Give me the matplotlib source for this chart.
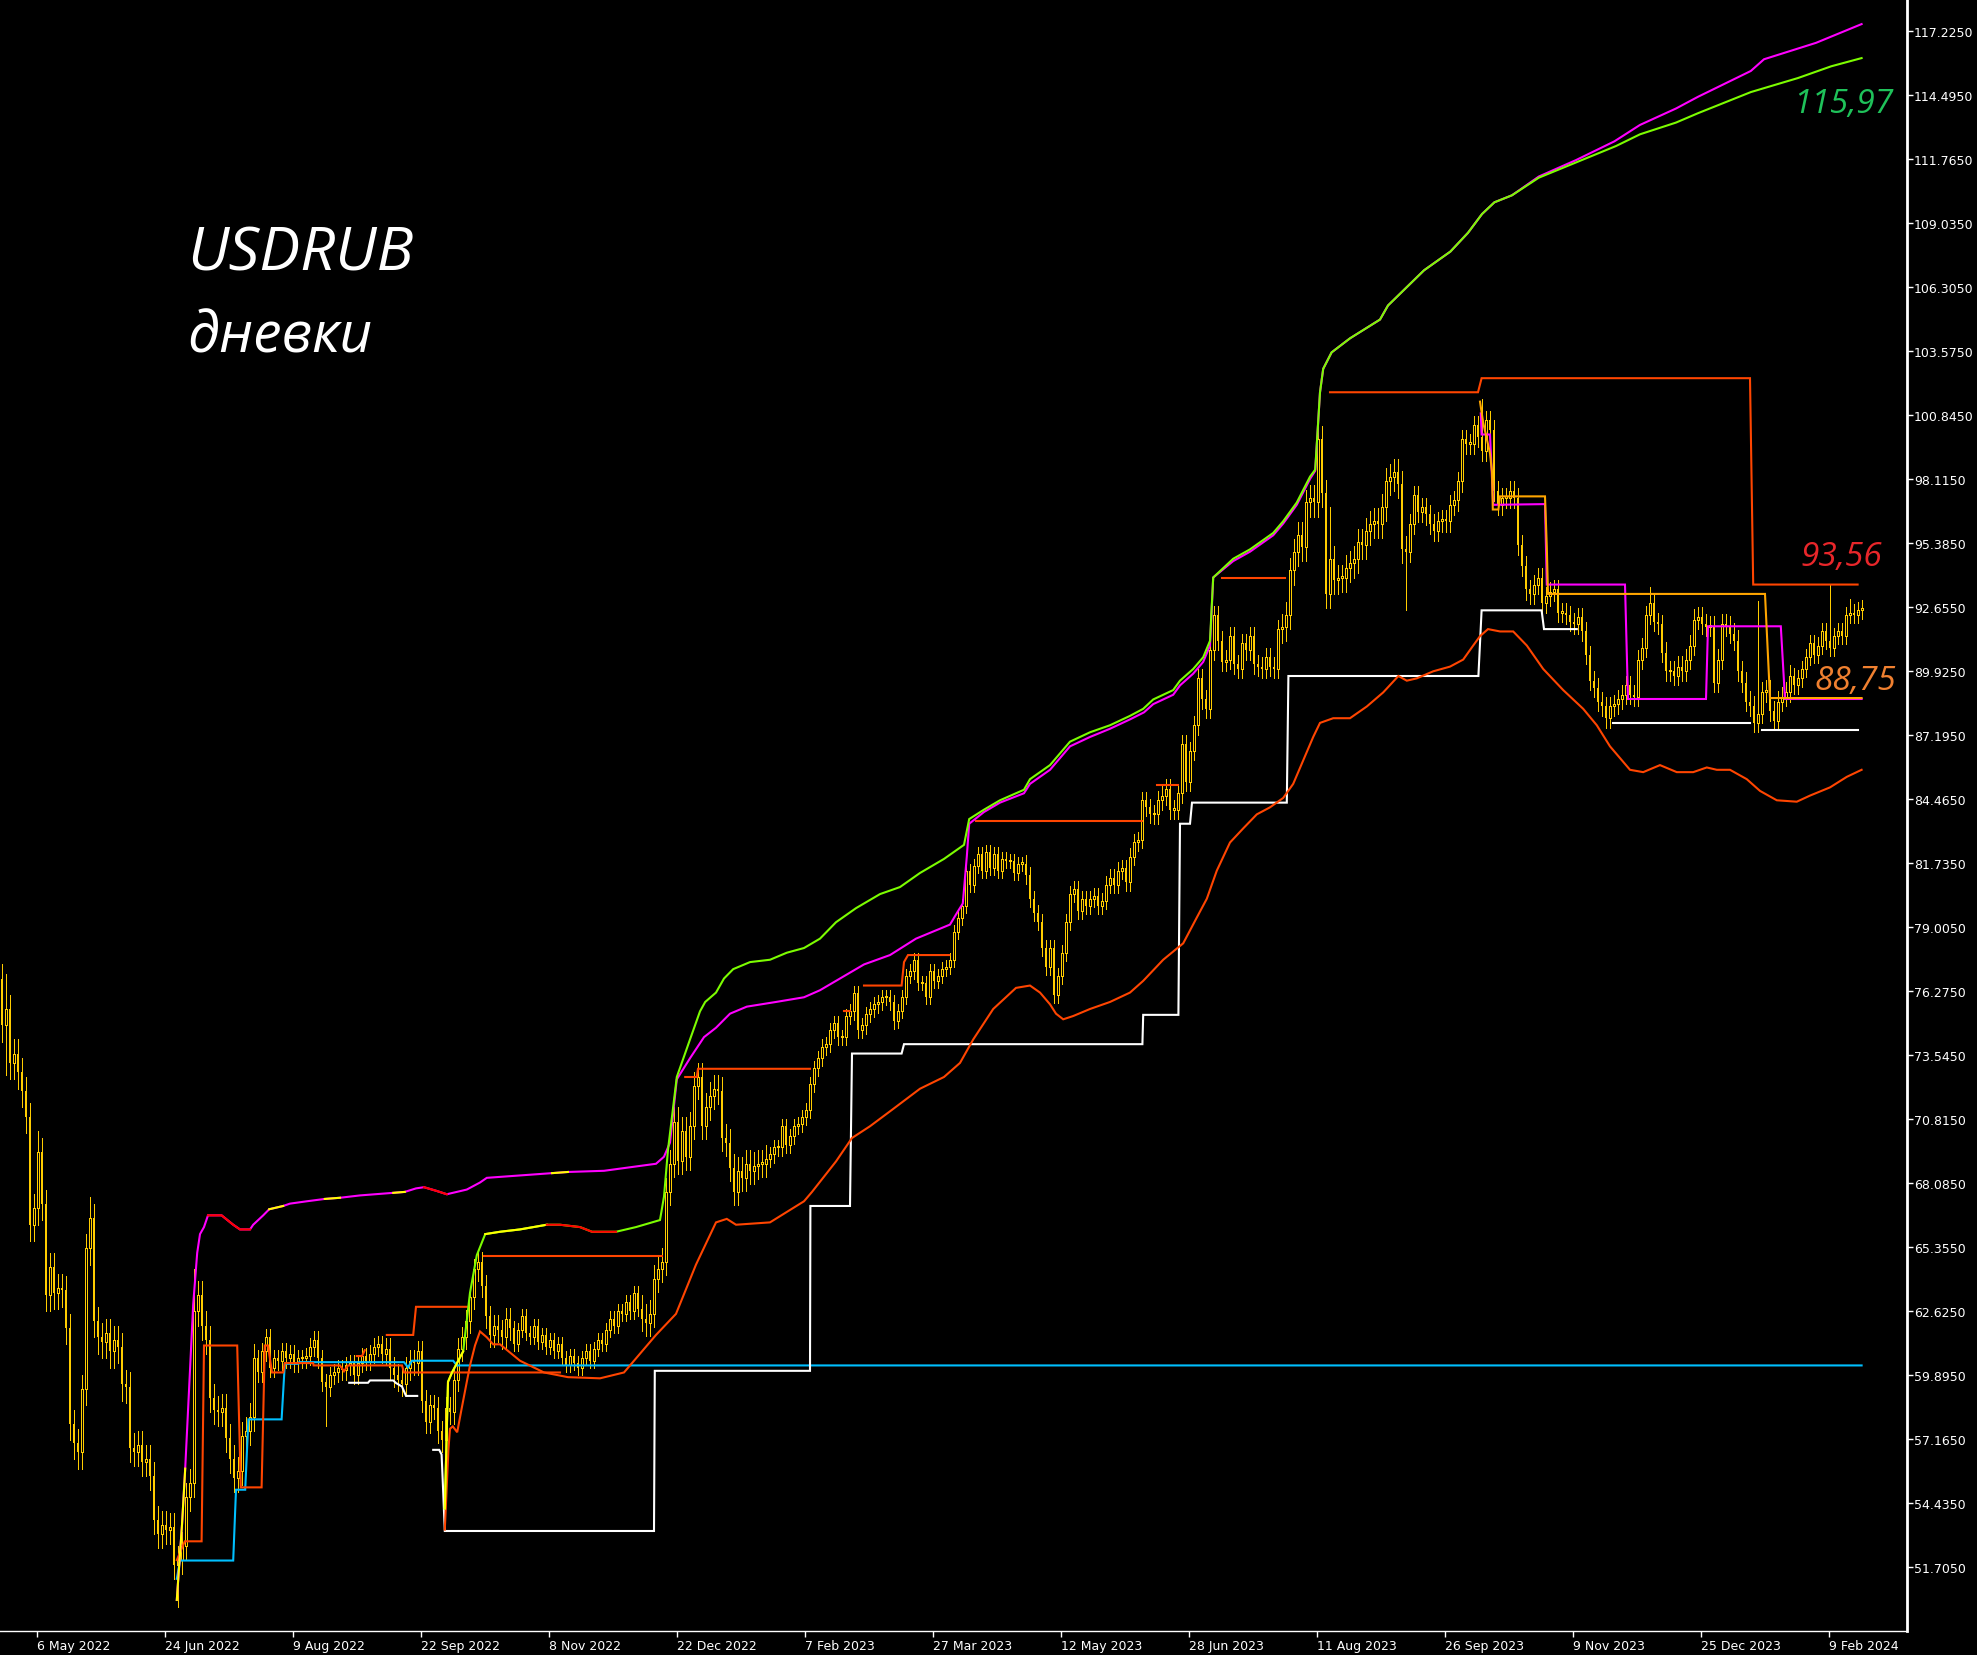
import numpy as np
import matplotlib
matplotlib.use("Agg")
import matplotlib.pyplot as plt

# daily closes, one per bar (USDRUB D1)
closes = [
    74.8, 75.5, 73.2, 73.6, 72.8, 72.0, 70.9, 66.3, 67.0, 69.4,
    67.2, 63.3, 64.5, 63.4, 63.6, 63.5, 61.9, 57.8, 57.0, 56.6,
    59.3, 65.3, 66.6, 62.2, 61.5, 61.3, 61.7, 60.9, 61.4, 61.1,
    59.5, 59.4, 56.8, 56.6, 56.9, 56.2, 56.3, 55.6, 53.7, 53.1,
    53.5, 53.3, 53.4, 51.8, 52.0, 52.6, 54.7, 55.3, 62.6, 63.3,
    62.0, 61.4, 58.9, 58.4, 58.3, 58.5, 57.2, 56.3, 55.5, 55.8,
    57.3, 57.5, 58.1, 60.6, 60.0, 60.9, 61.5, 60.2, 60.6, 60.5,
    60.9, 60.6, 60.8, 60.4, 60.6, 60.6, 60.7, 61.1, 61.4, 60.6,
    59.6, 59.4, 59.9, 60.0, 60.2, 60.1, 60.3, 60.4, 59.9, 60.4,
    60.7, 60.5, 60.8, 61.1, 61.2, 60.8, 61.0, 60.2, 59.9, 59.7,
    59.5, 60.2, 60.5, 60.4, 60.9, 58.8, 57.9, 58.6, 58.5, 57.5,
    57.1, 58.5, 58.3, 59.7, 61.0, 61.5, 62.2, 63.2, 64.4, 64.7,
    63.7, 62.4, 61.6, 62.0, 61.8, 61.5, 62.3, 61.9, 61.2, 61.8,
    62.4, 61.7, 61.5, 62.0, 61.3, 61.6, 61.1, 61.4, 60.9, 61.2,
    60.6, 60.3, 60.7, 60.4, 60.2, 60.6, 60.9, 60.5, 61.0, 61.4,
    61.2, 61.8, 62.3, 62.0, 62.6, 62.5, 63.0, 62.6, 63.4, 62.7,
    62.3, 62.1, 62.5, 64.0, 64.4, 64.7, 67.7, 68.9, 70.7, 69.0,
    70.3, 69.2, 70.5, 72.2, 72.6, 70.5, 71.3, 71.8, 72.1, 72.0,
    70.0, 69.8, 68.7, 67.7, 68.6, 68.3, 68.9, 68.6, 68.8, 68.9,
    68.9, 69.1, 69.3, 69.6, 69.6, 70.5, 69.7, 70.1, 70.5, 70.6,
    70.9, 71.2, 72.3, 73.0, 73.4, 73.9, 74.0, 74.6, 74.9, 74.3,
    74.3, 75.2, 75.4, 76.2, 74.6, 74.8, 75.3, 75.5, 75.7, 75.8,
    76.0, 76.0, 75.8, 75.0, 75.4, 76.0, 76.9, 77.1, 77.6, 76.6,
    76.6, 76.0, 77.1, 76.7, 76.9, 77.2, 77.3, 77.6, 78.8, 79.4,
    79.9, 81.4, 80.8, 81.6, 82.1, 81.4, 82.2, 81.5, 82.1, 81.4,
    81.9, 81.8, 81.8, 81.3, 81.7, 81.7, 81.2, 80.2, 79.6, 79.2,
    78.1, 77.3, 78.1, 76.1, 76.9, 77.9, 79.2, 80.4, 80.6, 79.7,
    80.2, 79.9, 80.2, 80.3, 79.9, 80.1, 80.8, 81.1, 80.8, 81.4,
    81.5, 80.9, 82.0, 82.6, 82.7, 84.4, 84.1, 83.8, 83.8, 84.4,
    84.6, 84.9, 84.0, 84.0, 84.7, 86.8, 85.2, 86.5, 87.6, 89.6,
    88.7, 88.3, 90.8, 92.3, 91.2, 90.3, 90.4, 91.4, 90.2, 90.0,
    91.1, 90.8, 91.4, 90.2, 90.1, 90.0, 90.5, 90.1, 90.0, 91.7,
    91.8, 92.3, 94.2, 95.0, 95.7, 95.2, 97.1, 97.3, 97.1, 99.8,
    97.5, 93.2, 94.7, 93.8, 93.9, 93.9, 94.3, 94.5, 94.7, 95.4,
    95.3, 95.9, 96.2, 96.3, 96.2, 96.9, 98.0, 98.2, 98.4, 97.9,
    95.1, 95.0, 96.2, 97.4, 96.7, 96.9, 96.6, 96.2, 95.9, 96.3,
    96.4, 96.3, 97.0, 97.2, 98.0, 99.8, 99.6, 99.6, 100.4, 99.9,
    99.3, 100.6, 100.2, 97.6, 97.0, 97.3, 97.3, 97.6, 97.3, 95.3,
    94.4, 93.4, 93.2, 93.6, 93.9, 92.8, 93.1, 93.3, 93.4, 92.4,
    92.4, 92.3, 92.0, 91.9, 92.2, 91.6, 90.6, 89.5, 89.2, 88.6,
    88.4, 87.9, 88.4, 88.5, 88.7, 88.9, 89.3, 88.9, 88.8, 90.4,
    90.9, 92.3, 92.8, 92.0, 91.9, 90.7, 89.9, 89.9, 89.7, 90.1,
    89.9, 90.4, 91.0, 92.1, 92.2, 91.9, 91.8, 91.8, 89.4, 90.4,
    91.9, 91.8, 91.5, 91.2, 89.9, 89.4, 88.6, 88.4, 87.7, 88.1,
    89.0, 89.1, 88.2, 87.8, 88.6, 88.8, 89.0, 89.7, 89.3, 89.6,
    90.0, 90.5, 91.1, 90.6, 91.0, 91.6, 91.2, 90.9, 91.4, 91.6,
    91.4, 92.3, 92.4, 92.3, 92.5, 92.6,
]
first_open = 76.8

# typical wick length per 32-bar block
wick_up = [0.6, 0.6, 0.35, 0.45, 0.3, 0.6, 0.3, 0.3, 0.35, 0.4, 0.55, 0.4, 0.4, 0.45, 0.35]
wick_dn = [0.7, 0.6, 0.4, 0.5, 0.3, 0.55, 0.35, 0.3, 0.35, 0.4, 0.6, 0.45, 0.4, 0.4, 0.35]
spike_high = {0: 77.0, 1: 77.0, 9: 70.3, 22: 67.5, 48: 64.4, 329: 100.6, 332: 96.9,
              370: 101.5, 412: 93.5, 439: 92.9, 457: 93.56, 462: 93.0}
spike_low = {1: 72.7, 20: 56.0, 44: 50.0, 81: 57.7, 331: 92.7, 351: 92.5}

date_bars = [9, 41, 73, 105, 137, 169, 201, 233, 265, 297, 329, 361, 393, 425, 457]
date_labels = ["6 May 2022", "24 Jun 2022", "9 Aug 2022", "22 Sep 2022", "8 Nov 2022",
               "22 Dec 2022", "7 Feb 2023", "27 Mar 2023", "12 May 2023", "28 Jun 2023",
               "11 Aug 2023", "26 Sep 2023", "9 Nov 2023", "25 Dec 2023", "9 Feb 2024"]
price_labels = ["51.7050", "54.4350", "57.1650", "59.8950", "62.6250", "65.3550", "68.0850",
                "70.8150", "73.5450", "76.2750", "79.0050", "81.7350", "84.4650", "87.1950",
                "89.9250", "92.6550", "95.3850", "98.1150", "100.8450", "103.5750", "106.3050",
                "109.0350", "111.7650", "114.4950", "117.2250"]

# upper envelope (magenta) and faster envelope (green), bar position / price
magenta_band = [
    (44.2, 50.3), (45.5, 53.5), (46.3, 55.9), (48.3, 62.9), (49.3, 65.1), (50.0, 65.9),
    (51.0, 66.2), (52.0, 66.7), (55.4, 66.7), (58.3, 66.3), (60.0, 66.1), (62.5, 66.1),
    (63.3, 66.3), (65.8, 66.7), (67.3, 66.96), (70.8, 67.1), (72.5, 67.2), (76.7, 67.3),
    (81.2, 67.4), (85.0, 67.45), (90.0, 67.55), (98.3, 67.66), (101.2, 67.7), (104.0, 67.85),
    (106.0, 67.9), (109.0, 67.75), (111.7, 67.6), (116.7, 67.8), (120.0, 68.1), (121.7, 68.3),
    (138.0, 68.5), (142.0, 68.55), (151.0, 68.6), (164.0, 68.9), (166.0, 69.2), (167.5, 69.8),
    (169.2, 72.5), (172.5, 73.4), (176.0, 74.3), (179.0, 74.7), (182.5, 75.3), (186.7, 75.6),
    (194.0, 75.8), (201.0, 76.0), (205.0, 76.3), (211.0, 76.9), (216.0, 77.4), (222.5, 77.8),
    (229.0, 78.5), (237.5, 79.1), (239.6, 79.7), (240.7, 80.0), (241.7, 82.0), (242.3, 83.4),
    (246.0, 83.9), (250.0, 84.3), (256.0, 84.7), (257.5, 85.1), (262.5, 85.7), (267.5, 86.7),
    (272.5, 87.1), (277.5, 87.45), (282.5, 87.85), (286.0, 88.15), (288.3, 88.5), (293.3, 88.9),
    (295.0, 89.3), (298.3, 89.8), (300.8, 90.3), (302.5, 91.0), (303.3, 93.9), (308.3, 94.6),
    (312.5, 95.0), (318.3, 95.7), (320.8, 96.2), (324.2, 97.0), (327.5, 98.1), (328.8, 98.45),
    (330.0, 101.8), (330.8, 102.8), (332.9, 103.5), (337.5, 104.1), (345.0, 104.9),
    (347.0, 105.5), (356.0, 107.0), (362.6, 107.8), (367.0, 108.6), (370.5, 109.4),
    (373.6, 109.9), (378.0, 110.2), (384.7, 111.0), (394.0, 111.7), (403.6, 112.5),
    (410.0, 113.2), (419.0, 113.9), (424.5, 114.4), (437.7, 115.5), (441.0, 116.0),
    (454.0, 116.7), (465.4, 117.5),
]
green_band = [
    (111.2, 54.2), (112.0, 59.6), (113.0, 60.0), (115.8, 60.9), (117.5, 63.4), (119.2, 65.0),
    (121.3, 65.9), (125.0, 66.0), (130.0, 66.1), (136.7, 66.3), (140.0, 66.3), (145.0, 66.2),
    (148.0, 66.0), (154.0, 66.0), (159.0, 66.2), (165.0, 66.5), (166.0, 67.5), (167.0, 69.5),
    (169.2, 72.6), (172.5, 74.2), (175.0, 75.4), (176.3, 75.8), (179.0, 76.2), (181.0, 76.8),
    (183.3, 77.2), (187.5, 77.5), (192.5, 77.6), (196.7, 77.9), (201.0, 78.1), (205.0, 78.5),
    (209.0, 79.2), (214.0, 79.8), (220.0, 80.4), (225.0, 80.7), (230.0, 81.3), (236.0, 81.9),
    (241.0, 82.5), (242.3, 83.6), (246.0, 84.0), (250.0, 84.4), (256.0, 84.85), (257.5, 85.3),
    (262.5, 85.9), (267.5, 86.9), (272.5, 87.3), (277.5, 87.6), (282.5, 88.0), (285.8, 88.3),
    (288.3, 88.7), (293.3, 89.1), (295.0, 89.5), (298.3, 90.0), (300.8, 90.5), (302.5, 91.2),
    (303.3, 93.9), (308.3, 94.7), (312.5, 95.1), (318.3, 95.8), (320.8, 96.3), (324.2, 97.1),
    (327.5, 98.2), (328.8, 98.5), (330.0, 101.8), (330.8, 102.8), (332.9, 103.5),
    (337.5, 104.1), (345.0, 104.9), (347.0, 105.5), (356.0, 107.0), (362.6, 107.8),
    (367.0, 108.6), (370.5, 109.4), (373.6, 109.9), (378.0, 110.2), (384.7, 110.95),
    (394.0, 111.6), (404.0, 112.3), (410.0, 112.8), (419.0, 113.3), (424.5, 113.7),
    (437.7, 114.6), (449.5, 115.2), (457.8, 115.7), (465.4, 116.05),
]
magenta_marks = [(44.2, 46.3, "#FFFF00"), (52.0, 62.5, "#FF0000"), (67.3, 70.8, "#FFFF00"),
                 (81.2, 85.0, "#FFFF00"), (98.3, 101.2, "#FFFF00"), (106.0, 111.7, "#FF0000"),
                 (138.0, 142.0, "#FFFF00")]
green_marks = [(111.2, 115.8, "#FFFF00"), (121.3, 136.7, "#FFFF00"), (136.7, 154.0, "#FF0000")]

# slow lower curve
lower_curve = [
    (111.2, 53.3), (112.1, 56.7), (112.5, 57.6), (113.2, 57.7), (114.3, 57.45), (115.4, 58.45),
    (116.7, 59.6), (117.5, 60.3), (118.75, 61.15), (120.0, 61.75), (121.7, 61.5), (123.3, 61.2),
    (125.0, 61.2), (130.0, 60.5), (136.0, 60.0), (142.0, 59.8), (150.0, 59.75), (156.0, 60.0),
    (160.0, 60.8), (164.0, 61.6), (169.0, 62.5), (174.0, 64.6), (179.0, 66.4), (181.7, 66.55),
    (184.0, 66.3), (192.5, 66.4), (201.0, 67.3), (203.0, 67.7), (209.0, 69.0), (213.0, 70.0),
    (217.5, 70.5), (223.0, 71.2), (230.0, 72.1), (236.0, 72.6), (240.0, 73.2), (243.3, 74.2),
    (248.3, 75.5), (254.0, 76.4), (257.5, 76.5), (260.0, 76.2), (262.5, 75.7), (264.0, 75.3),
    (265.8, 75.06), (268.3, 75.2), (272.5, 75.5), (277.5, 75.8), (282.5, 76.2), (285.8, 76.7),
    (290.8, 77.6), (295.8, 78.3), (299.2, 79.4), (301.7, 80.2), (304.2, 81.4), (307.5, 82.6),
    (310.8, 83.2), (314.2, 83.8), (317.5, 84.1), (320.8, 84.5), (323.3, 85.1), (325.8, 86.1),
    (328.3, 87.1), (330.0, 87.7), (333.3, 87.9), (337.5, 87.9), (341.7, 88.4), (345.8, 89.0),
    (349.6, 89.7), (351.7, 89.5), (354.2, 89.6), (358.3, 89.9), (362.5, 90.1), (365.8, 90.4),
    (368.3, 91.0), (370.0, 91.4), (372.0, 91.7), (375.0, 91.6), (378.3, 91.6), (381.7, 91.0),
    (385.8, 90.0), (390.8, 89.1), (395.8, 88.3), (399.2, 87.6), (402.5, 86.7), (407.5, 85.7),
    (410.8, 85.6), (415.0, 85.9), (419.2, 85.6), (423.3, 85.6), (426.7, 85.8), (429.2, 85.7),
    (432.5, 85.7), (436.7, 85.3), (440.0, 84.8), (444.2, 84.4), (449.2, 84.34), (452.5, 84.6),
    (457.5, 84.95), (461.7, 85.4), (465.4, 85.7),
]

# resistance levels (orange-red)
resist_levels = [
    [(44.2, 52.0), (46.2, 52.8), (50.4, 52.8), (51.0, 61.15), (59.3, 61.15), (60.2, 55.1),
     (65.4, 55.1), (66.2, 61.15), (67.0, 61.15), (68.0, 60.0), (70.8, 60.0), (71.2, 60.4),
     (78.3, 60.4), (78.4, 60.3), (85.0, 60.3), (86.0, 60.05), (87.0, 60.3), (100.5, 60.3),
     (101.0, 60.0), (140.0, 60.0)],
    [(89.2, 60.7), (90.5, 60.7), (91.2, 60.95)],
    [(96.7, 61.6), (103.3, 61.6), (104.0, 62.8), (116.7, 62.8)],
    [(121.0, 64.96), (165.6, 64.96)],
    [(171.3, 72.6), (174.2, 72.6), (174.5, 72.95), (202.5, 72.95)],
    [(211.0, 75.4), (212.5, 75.4)],
    [(216.0, 76.5), (225.4, 76.5), (226.0, 77.5), (227.0, 77.8), (237.3, 77.8)],
    [(244.0, 83.5), (285.4, 83.5)],
    [(289.3, 85.05), (294.6, 85.05)],
    [(305.4, 93.86), (321.25, 93.86)],
    [(332.5, 101.8), (369.5, 101.8), (370.4, 102.4), (437.5, 102.4), (438.3, 93.6),
     (464.4, 93.6)],
]
# support levels (white)
support_levels = [
    [(87.3, 59.56), (92.0, 59.56), (92.5, 59.66), (98.3, 59.66), (99.0, 59.55), (100.5, 59.4),
     (101.5, 59.0), (104.3, 59.0)],
    [(108.3, 56.7), (109.8, 56.7), (110.4, 56.5), (110.8, 54.9), (111.2, 53.24), (163.5, 53.24),
     (163.7, 60.07), (202.5, 60.07), (202.6, 67.1), (212.5, 67.1), (213.0, 73.6), (225.4, 73.6),
     (226.0, 74.0), (285.6, 74.0), (285.8, 75.25), (294.6, 75.25), (295.0, 83.4), (297.5, 83.4),
     (298.0, 84.3), (321.7, 84.3), (322.1, 89.7), (369.6, 89.7), (370.4, 92.5), (385.4, 92.5),
     (386.0, 91.7), (394.2, 91.7)],
    [(403.3, 87.7), (437.5, 87.7)],
    [(440.4, 87.4), (464.4, 87.4)],
]
cyan_level = [(44.2, 51.2), (45.0, 51.98), (58.3, 51.98), (59.0, 55.0), (61.3, 55.0), (62.1, 58.0),
              (70.4, 58.0), (71.2, 60.37), (74.6, 60.37), (74.8, 60.44), (101.0, 60.44),
              (102.0, 60.22), (103.0, 60.5), (113.3, 60.5), (114.2, 60.3), (465.4, 60.3)]
orange_level = [(370.0, 101.4), (370.8, 100.5), (372.5, 99.2), (373.0, 98.4), (373.2, 96.8),
                (374.6, 96.8), (375.0, 97.36), (386.25, 97.36), (386.7, 95.2), (387.0, 93.2),
                (441.25, 93.2), (442.5, 88.76), (465.4, 88.76)]
magenta_level = [(370.2, 100.9), (370.4, 100.0), (372.5, 100.0), (373.3, 97.0), (386.25, 97.03),
                 (386.7, 93.6), (406.25, 93.6), (407.0, 88.72), (426.5, 88.72), (427.0, 91.82),
                 (445.2, 91.82), (446.25, 88.72), (465.4, 88.72)]

GOLD = "#FFCC00"

c = np.array(closes)
o = np.array([first_open] + closes[:-1])
n = len(c)
x = np.arange(n) + 0.5
blk = np.arange(n) // 32
hi = np.maximum(o, c) + np.array(wick_up)[blk]
lo = np.minimum(o, c) - np.array(wick_dn)[blk]
for k, v in spike_high.items():
    hi[k] = max(hi[k], v)
for k, v in spike_low.items():
    lo[k] = min(lo[k], v)

fig = plt.figure(figsize=(19.77, 16.56), dpi=100, facecolor="black")
ax = fig.add_axes([0, 24 / 1656, 1907 / 1977, 1632 / 1656])
ax.set_facecolor("black")

# candles: 1 px wicks, 3 px bodies, hollow = up day
ax.vlines(x, lo, hi, color=GOLD, lw=0.72, zorder=2, antialiased=False)
up = c >= o
body = np.maximum(np.abs(c - o), 0.06)
ax.bar(x[~up], body[~up], bottom=c[~up], width=0.7, color=GOLD, lw=0, zorder=2,
       antialiased=False)
ax.bar(x[up], body[up], bottom=o[up], width=0.55, facecolor="black",
       edgecolor=GOLD, lw=0.72, zorder=2.1, antialiased=False)


def line(pts, color, lw=1.5, z=3):
    xs, ys = zip(*pts)
    ax.plot(xs, ys, color=color, lw=lw, zorder=z, solid_joinstyle="miter")


def marked(pts, base, marks):
    line(pts, base)
    for a, b, col in marks:
        sub = [p for p in pts if a <= p[0] <= b]
        if len(sub) > 1:
            line(sub, col, z=3.1)


line(cyan_level, "#00BFFF")
for seg in support_levels:
    line(seg, "white")
for seg in resist_levels:
    line(seg, "#FF4500")
line(lower_curve, "#FF4500")
marked(magenta_band, "#FF00FF", magenta_marks)
marked(green_band, "#7CFC00", green_marks)
line(orange_level, "#FFA500", z=3.3)
line(magenta_level, "#FF00FF", z=3.2)

ax.set_xlim(0, 1907 / 4)
ax.set_ylim(118.57 - 1632 / 23.45, 118.57)

ax.yaxis.tick_right()
ax.set_yticks([float(s) for s in price_labels])
ax.set_yticklabels(price_labels)
ax.set_xticks([b + 0.25 for b in date_bars])
ax.set_xticklabels(date_labels)
ax.tick_params(axis="y", colors="white", length=4, width=1, pad=1, labelsize=9)
ax.tick_params(axis="x", colors="white", length=4, width=1, pad=2, labelsize=9)
for t in ax.get_xticklabels():
    t.set_ha("left")
for s in ["left", "top"]:
    ax.spines[s].set_visible(False)
ax.spines["right"].set_color("white")
ax.spines["right"].set_linewidth(2)
ax.spines["bottom"].set_color("white")
ax.spines["bottom"].set_linewidth(1)

hand = ["Open Sans", "DejaVu Sans"]
fig.text(187 / 1977, 1 - 271 / 1656, "USDRUB", color="white", fontsize=44,
         family=hand, style="italic", va="baseline")
fig.text(187 / 1977, 1 - 353 / 1656, "дневки", color="white", fontsize=41,
         family=hand, style="italic", va="baseline")
fig.text(1793 / 1977, 1 - 113 / 1656, "115,97", color="#1FC25A", fontsize=24,
         family=hand, style="italic", va="baseline")
fig.text(1800 / 1977, 1 - 566 / 1656, "93,56", color="#E8262A", fontsize=24,
         family=hand, style="italic", va="baseline")
fig.text(1815 / 1977, 1 - 690 / 1656, "88,75", color="#F08030", fontsize=24,
         family=hand, style="italic", va="baseline")

fig.savefig("out.png", dpi=100, facecolor="black")
